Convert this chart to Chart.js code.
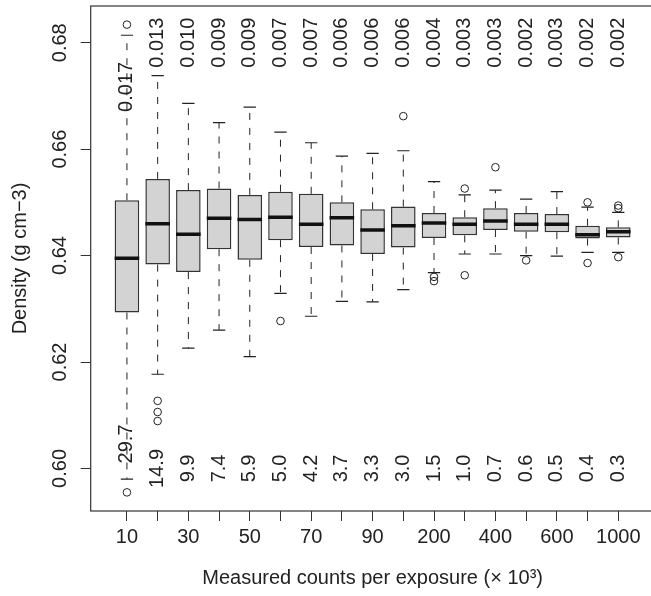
<!DOCTYPE html>
<html><head><meta charset="utf-8">
<script src="https://cdn.jsdelivr.net/npm/chart.js@4.4.0/dist/chart.umd.min.js"></script>
<style>
html,body{margin:0;padding:0;background:#fff;overflow:hidden;width:651px;height:596px}
#wrap{position:relative;width:651px;height:596px;overflow:hidden;background:#fff}
canvas{position:absolute;left:0;top:0}
</style></head>
<body><div id="wrap"><canvas id="c" width="656" height="596"></canvas></div>
<script>
// ---- data ----
const categories = ['10','20','30','40','50','60','70','80','90','100','200','300','400','500','600','800','1000'];
const upperWhisker = [0.6814,0.6738,0.6686,0.6650,0.6679,0.6632,0.6612,0.6587,0.6592,0.6597,0.6539,0.6514,0.6523,0.6506,0.6520,0.6491,0.6481];
const q3 = [0.6504,0.6544,0.6523,0.6526,0.6514,0.6520,0.6516,0.6500,0.6487,0.6492,0.6480,0.6472,0.6489,0.6480,0.6478,0.6456,0.6453];
const medians = [0.6395,0.6460,0.6440,0.6470,0.6468,0.6472,0.6459,0.6471,0.6448,0.6456,0.6461,0.6459,0.6465,0.6459,0.6459,0.6439,0.6445];
const q1 = [0.6293,0.6383,0.6369,0.6412,0.6392,0.6429,0.6416,0.6419,0.6403,0.6415,0.6433,0.6438,0.6448,0.6445,0.6444,0.6432,0.6434];
const lowerWhisker = [0.5980,0.6177,0.6226,0.6260,0.6210,0.6329,0.6286,0.6314,0.6313,0.6336,0.6368,0.6403,0.6403,0.6400,0.6399,0.6406,0.6406];
const outliers = [[0.6834,0.5955],[0.6127,0.6106,0.6089],[],[],[],[0.6277],[],[],[],[0.6662],[0.6360,0.6352],[0.6526,0.6363],[0.6566],[0.6391],[],[0.6500,0.6386],[0.6494,0.6489,0.6397]];
const topLabels = ['0.017','0.013','0.010','0.009','0.009','0.007','0.007','0.006','0.006','0.006','0.004','0.003','0.003','0.002','0.003','0.002','0.002'];
const bottomLabels = ['29.7','14.9','9.9','7.4','5.9','5.0','4.2','3.7','3.3','3.0','1.5','1.0','0.7','0.6','0.5','0.4','0.3'];
const yTicks = [0.60,0.62,0.64,0.66,0.68];

// ---- build library datasets ----
const boxes = categories.map((c,i)=>({x:i+1, y:[q1[i], q3[i]]}));
const medPts = categories.map((c,i)=>({x:i+1, y:medians[i]}));
const capPts = [];
categories.forEach((c,i)=>{ capPts.push({x:i+1,y:upperWhisker[i]}); capPts.push({x:i+1,y:lowerWhisker[i]}); });
const whiskerPts = [];
categories.forEach((c,i)=>{
  whiskerPts.push({x:i+1,y:q3[i]},{x:i+1,y:upperWhisker[i]},{x:i+1.0001,y:null});
  whiskerPts.push({x:i+1,y:q1[i]},{x:i+1,y:lowerWhisker[i]},{x:i+1.0002,y:null});
});
const outPts = [];
outliers.forEach((arr,i)=>arr.forEach(v=>outPts.push({x:i+1,y:v})));

const FONT = '"Liberation Sans", Arial, Helvetica, sans-serif';
const INK = '#222';

const textPlugin = {
  id:'boxText',
  afterDatasetsDraw(chart, args, opts){
    const {ctx, chartArea:a, scales:{x,y}} = chart;
    ctx.save();
    ctx.strokeStyle = '#333'; ctx.lineWidth = 1.2;
    ctx.strokeRect(a.left, a.top, a.right-a.left, a.bottom-a.top);
    ctx.font = '20px ' + FONT;
    ctx.fillStyle = INK;
    ctx.textAlign = 'center'; ctx.textBaseline = 'middle';
    const rot = (t,px,py)=>{ ctx.save(); ctx.translate(px,py); ctx.rotate(-Math.PI/2); ctx.fillText(t,0,0); ctx.restore(); };
    categories.forEach((c,i)=>{
      const px = x.getPixelForValue(i+1);
      rot(topLabels[i], px, y.getPixelForValue(opts.topAt[i] ?? opts.topDefault));
      rot(bottomLabels[i], px, y.getPixelForValue(opts.bottomAt[i] ?? opts.bottomDefault));
    });
    y.ticks.forEach(t=> rot(t.value.toFixed(2), opts.yLabelX, y.getPixelForValue(t.value)));
    ctx.restore();
  }
};

new Chart(document.getElementById('c'), {
  type:'bar',
  data:{datasets:[
    {type:'line', data:whiskerPts, borderColor:INK, borderWidth:1, borderDash:[7,8], pointRadius:0, spanGaps:false, fill:false, order:5},
    {type:'bar', data:boxes, backgroundColor:'#D3D3D3', borderColor:'#333', borderWidth:1.5, borderSkipped:false, barPercentage:0.8, categoryPercentage:1, order:4},
    {type:'scatter', data:medPts, pointStyle:'line', pointRadius:12.3, pointHoverRadius:12.3, borderWidth:3.5, borderColor:'#111', order:3},
    {type:'scatter', data:capPts, pointStyle:'line', pointRadius:6.15, pointHoverRadius:6.15, borderWidth:1.2, borderColor:INK, order:2},
    {type:'scatter', data:outPts, pointStyle:'circle', pointRadius:3.8, pointHoverRadius:3.8, borderWidth:1, borderColor:INK, backgroundColor:'rgba(0,0,0,0)', order:1}
  ]},
  options:{
    responsive:false, animation:false, events:[],
    layout:{autoPadding:false, padding:{top:6, right:1.5, left:0, bottom:0}},
    plugins:{legend:{display:false}, tooltip:{enabled:false},
      boxText:{topDefault:0.68, bottomDefault:0.60, topAt:{0:0.6717}, bottomAt:{0:0.6046}, yLabelX:60}},
    scales:{
      x:{type:'linear', min:-0.18, max:18.18, offset:false,
        afterBuildTicks:s=>{ s.ticks = categories.map((c,i)=>({value:i+1})); },
        afterFit:s=>{ s.height = 85; },
        grid:{display:true, offset:false, drawOnChartArea:false, drawTicks:true, tickLength:10, color:'#333', lineWidth:1},
        border:{display:false},
        ticks:{autoSkip:false, maxRotation:0, minRotation:0, padding:4.5, color:INK, font:{family:FONT, size:20},
          callback:(v)=>{ const i = Math.round(v)-1; return i%2===0 ? categories[i] : ''; }},
        title:{display:true, text:'Measured counts per exposure (× 10³)', color:INK, font:{family:FONT, size:20}, padding:{top:0, bottom:6}}
      },
      y:{type:'linear', min:0.592, max:0.6869,
        afterBuildTicks:s=>{ s.ticks = yTicks.map(v=>({value:v})); },
        afterFit:s=>{ s.width = 90.7; },
        grid:{display:true, drawOnChartArea:false, drawTicks:true, tickLength:10, color:'#333', lineWidth:1},
        border:{display:false},
        ticks:{display:false},
        title:{display:true, text:'Density (g cm−3)', color:INK, font:{family:FONT, size:20}, padding:{top:8, bottom:0}}
      }
    }
  },
  plugins:[textPlugin]
});
</script>
</body></html>
